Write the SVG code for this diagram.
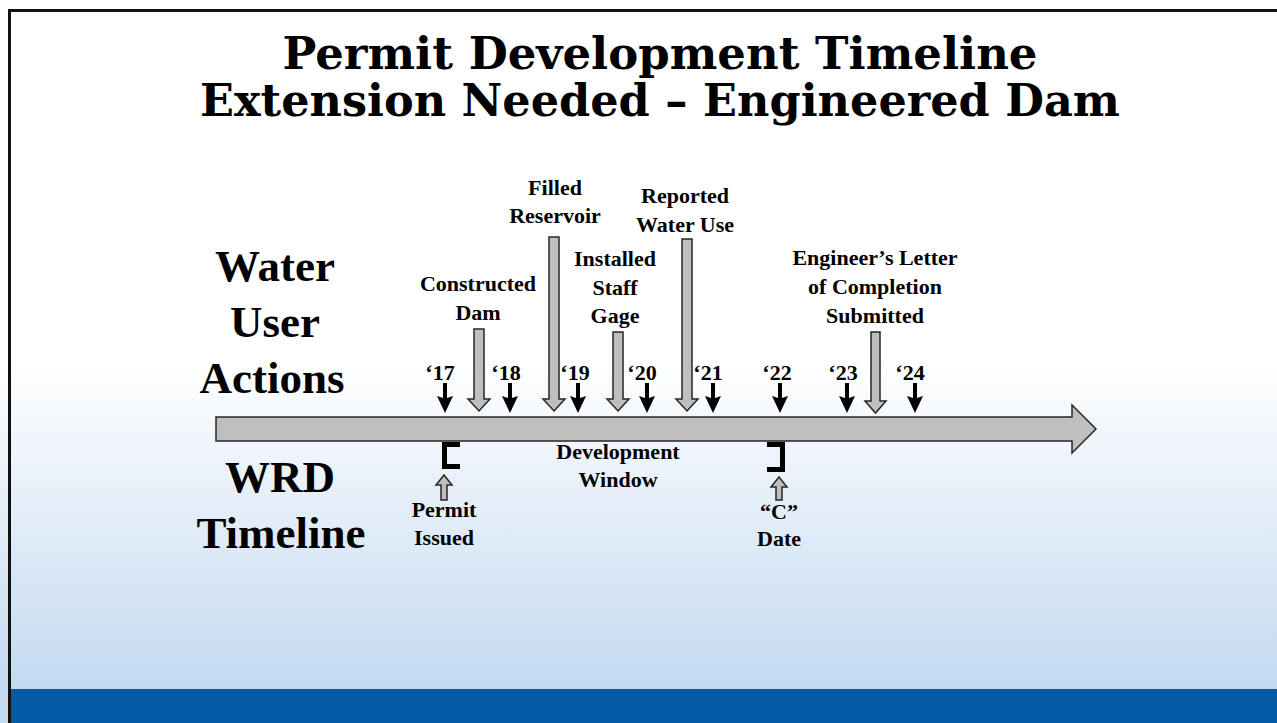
<svg xmlns="http://www.w3.org/2000/svg" width="1277" height="723" viewBox="0 0 1277 723">
<defs>
<linearGradient id="bg" x1="0" y1="0" x2="0" y2="723" gradientUnits="userSpaceOnUse">
<stop offset="0" stop-color="#ffffff"/>
<stop offset="0.5" stop-color="#ffffff"/>
<stop offset="0.953" stop-color="#c3d9f0"/>
</linearGradient>
<style>
.title{font-family:"DejaVu Serif","Liberation Serif",serif;font-weight:bold;font-size:44px;fill:#000;text-anchor:middle}
.side{font-family:"Liberation Serif","Times New Roman",serif;font-weight:bold;font-size:45px;fill:#000;text-anchor:middle}
.lbl{font-family:"Liberation Serif","Times New Roman",serif;font-weight:bold;font-size:22px;fill:#000;text-anchor:middle}
.yr{font-family:"Liberation Serif","Times New Roman",serif;font-weight:bold;font-size:22px;fill:#000;text-anchor:middle}
.gray{fill:#bfbfbf;stroke:#262626;stroke-width:1.5;stroke-linejoin:miter}
.blk{fill:#000}
.brk{fill:none;stroke:#000;stroke-width:5;stroke-linejoin:miter}
</style>
</defs>
<rect x="0" y="0" width="1277" height="723" fill="url(#bg)"/>
<rect x="9" y="689" width="1268" height="34" fill="#035ca5"/>
<path d="M9.5,723 V10.5 H1277" fill="none" stroke="#111" stroke-width="3"/>

<g id="title">
<text class="title" x="660" y="69" textLength="755" lengthAdjust="spacingAndGlyphs">Permit Development Timeline</text>
<text class="title" x="660" y="116" textLength="920" lengthAdjust="spacingAndGlyphs">Extension Needed – Engineered Dam</text>
</g>

<g id="water-user-actions">
<text class="side" x="275" y="281">Water</text>
<text class="side" x="275" y="337">User</text>
<text class="side" x="272" y="393">Actions</text>
</g>
<g id="wrd-timeline">
<text class="side" x="280" y="492">WRD</text>
<text class="side" x="281" y="548">Timeline</text>
</g>

<g id="timeline-arrow">
<polygon class="gray" points="216,417 1072,417 1072,405 1096,429 1072,453 1072,441 216,441"/>
</g>

<g id="years">
<text class="yr" x="440" y="380">‘17</text>
<text class="yr" x="506" y="380">‘18</text>
<text class="yr" x="575" y="380">‘19</text>
<text class="yr" x="642" y="380">‘20</text>
<text class="yr" x="708" y="380">‘21</text>
<text class="yr" x="777" y="380">‘22</text>
<text class="yr" x="843" y="380">‘23</text>
<text class="yr" x="910" y="380">‘24</text>
</g>

<g id="connectors">
<g id="year-ticks">
<polygon class="blk" points="443,383 447,383 447,398 453,396 445,413 437,396 443,398"/>
<polygon class="blk" points="508,383 512,383 512,398 518,396 510,413 502,396 508,398"/>
<polygon class="blk" points="576,383 580,383 580,398 586,396 578,413 570,396 576,398"/>
<polygon class="blk" points="645,383 649,383 649,398 655,396 647,413 639,396 645,398"/>
<polygon class="blk" points="711,383 715,383 715,398 721,396 713,413 705,396 711,398"/>
<polygon class="blk" points="778,383 782,383 782,398 788,396 780,413 772,396 778,398"/>
<polygon class="blk" points="845,383 849,383 849,398 855,396 847,413 839,396 845,398"/>
<polygon class="blk" points="913,383 917,383 917,398 923,396 915,413 907,396 913,398"/>
</g>
<g id="event-arrows">
<polygon class="gray" points="474,329 484,329 484,399 490,399 479,411 468,399 474,399"/>
<polygon class="gray" points="549,237 559,237 559,399 565,399 554,411 543,399 549,399"/>
<polygon class="gray" points="613,332 623,332 623,399 629,399 618,411 607,399 613,399"/>
<polygon class="gray" points="682,239 692,239 692,399 698,399 687,411 676,399 682,399"/>
<polygon class="gray" points="871,332 880,332 880,401 886,401 875.5,413 865,401 871,401"/>
</g>
<g id="wrd-arrows">
<polygon class="gray" points="441,500 447,500 447,485 452,485 444,475 436,485 441,485"/>
<polygon class="gray" points="776,500 782,500 782,487 787,487 779,477 771,487 776,487"/>
</g>
</g>

<g id="constructed-dam">
<text class="lbl" x="478" y="291">Constructed</text>
<text class="lbl" x="478" y="320">Dam</text>
</g>
<g id="filled-reservoir">
<text class="lbl" x="555" y="195">Filled</text>
<text class="lbl" x="555" y="223">Reservoir</text>
</g>
<g id="installed-staff-gage">
<text class="lbl" x="615" y="266">Installed</text>
<text class="lbl" x="615" y="295">Staff</text>
<text class="lbl" x="615" y="323">Gage</text>
</g>
<g id="reported-water-use">
<text class="lbl" x="685" y="203">Reported</text>
<text class="lbl" x="685" y="232">Water Use</text>
</g>
<g id="engineers-letter">
<text class="lbl" x="875" y="265">Engineer’s Letter</text>
<text class="lbl" x="875" y="294">of Completion</text>
<text class="lbl" x="875" y="323">Submitted</text>
</g>

<g id="permit-issued">
<path class="brk" d="M460,444.5 H444.5 V466.5 H460"/>
<text class="lbl" x="444" y="517">Permit</text>
<text class="lbl" x="444" y="545">Issued</text>
</g>
<g id="development-window">
<text class="lbl" x="618" y="459">Development</text>
<text class="lbl" x="618" y="487">Window</text>
</g>
<g id="c-date">
<path class="brk" d="M767,444.5 H782.5 V469.5 H767"/>
<text class="lbl" x="779" y="519">“C”</text>
<text class="lbl" x="779" y="546">Date</text>
</g>
</svg>
